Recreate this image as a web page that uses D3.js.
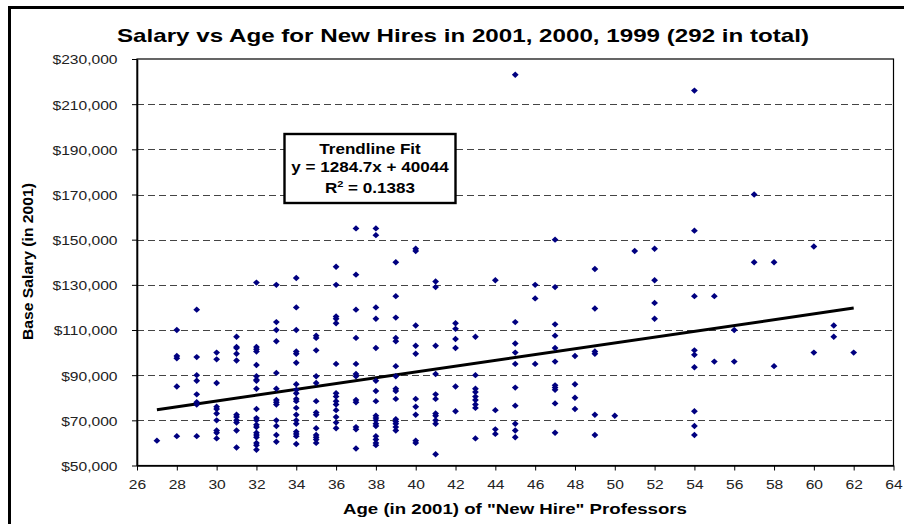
<!DOCTYPE html>
<html>
<head>
<meta charset="utf-8">
<script src="https://cdn.jsdelivr.net/npm/d3@7"></script>
<style>
  body { margin: 0; background: #fff; }
  svg { display: block; font-family: "Liberation Sans", Arial, sans-serif; }
</style>
</head>
<body>
<div id="chart"></div>
<script>
// ages (in 2001) and the salaries seen at each age, in $1,000
const ageGroups = [27, 28, 29, 30, 31, 32, 33, 34, 35, 36, 37, 38, 39, 40, 41, 42, 43, 44, 45, 46, 47, 48, 49, 50, 51, 52, 54, 55, 56, 57, 58, 60, 61, 62];
const salaryGroups = [
  [61],
  [110, 98.5, 97.5, 85, 63],
  [119, 98, 90, 87.5, 81.5, 78, 77, 63],
  [100, 97, 86.5, 76, 75, 73, 70, 65.5, 64.5, 62],
  [107, 102.5, 102, 99.5, 96.5, 72.5, 71.5, 70, 69, 65.5, 58],
  [131, 102.5, 101.5, 100.5, 94.5, 89.5, 88, 87.5, 84, 75, 71, 70, 68, 67, 64.5, 63.5, 62.5, 60, 59, 57],
  [130, 113.5, 110, 105, 91, 84, 79, 78, 77, 70, 67.5, 63.5, 60.5],
  [133, 120, 110, 100.5, 99.5, 95.5, 86, 83.5, 82, 79.5, 78.5, 75.5, 72.5, 70, 68.5, 65, 64, 63, 59.5],
  [107.5, 106.5, 101, 89.5, 86.5, 78.5, 73.5, 72.5, 66.5, 63.5, 62.5, 61.5, 60],
  [138, 130, 116, 115, 113, 95, 82, 80.5, 78.5, 77, 74.5, 71.5, 69, 66.5],
  [155, 134.5, 119, 106.5, 95, 90.5, 89.5, 79, 78, 67, 66, 57.5],
  [155, 152, 120, 115, 102, 87.5, 83, 78.5, 72, 71, 70, 68.5, 67.5, 63, 61.5, 60, 59],
  [140, 125, 115.5, 106.5, 105, 94, 89.5, 84, 83, 79.5, 70.5, 69.5, 68.5, 67, 65.5],
  [146, 145, 112, 103, 99.5, 79.5, 76, 72.5, 61, 60],
  [131.5, 129, 103, 90.5, 81.5, 79.5, 73, 72, 70, 68.5, 55],
  [113, 110.5, 106, 102, 85, 74],
  [107, 90, 84, 82.5, 80.5, 79, 77, 75.5, 62],
  [132, 74.5, 66, 64],
  [223, 113.5, 104, 100, 95, 84.5, 76.5, 68.5, 65.5, 62.5],
  [130, 124, 95],
  [150, 129, 112.5, 107.5, 102, 96, 85.5, 84.5, 83.5, 77.5, 64.5],
  [98.5, 86, 80, 75],
  [137, 119.5, 100.5, 99.5, 72.5, 63.5],
  [72],
  [145],
  [146, 132, 122, 115],
  [216, 154, 125, 101, 99, 93.5, 74, 67.5, 63.5],
  [125, 96],
  [110, 96],
  [170, 140],
  [140, 94],
  [147, 100],
  [112, 107],
  [100]
];

const xTicks = d3.range(26, 65, 2);
const yTicks = d3.range(50000, 230001, 20000);
const trendSlope = 1284.7;
const trendIntercept = 40044;
const trendAges = [27, 62];
const trendLines = ["Trendline Fit", "y = 1284.7x + 40044"];
const trendR2 = "0.1383";

const titleText = "Salary vs Age for New Hires in 2001, 2000, 1999 (292 in total)";
const xTitle = "Age (in 2001) of \"New Hire\" Professors";
const yTitle = "Base Salary (in 2001)";

const points = ageGroups.flatMap((a, i) => salaryGroups[i].map(s => ({ age: a, salary: s * 1000 })));

const W = 904, H = 524;
const svg = d3.select("#chart").append("svg")
  .attr("width", W)
  .attr("height", H);

// outer chart frame (runs off the right and bottom edges)
svg.append("rect")
  .attr("x", 9.5).attr("y", 7.5)
  .attr("width", 960).attr("height", 560)
  .attr("fill", "none")
  .attr("stroke", "#000")
  .attr("stroke-width", 3);

const x = d3.scaleLinear().domain([26, 64]).range([137, 893.5]);
const y = d3.scaleLinear().domain([50000, 230000]).range([465.5, 59]);

// dashed gridlines
svg.append("g")
  .selectAll("line")
  .data(yTicks.slice(1, -1))
  .join("line")
  .attr("x1", x(26)).attr("x2", x(64))
  .attr("y1", d => Math.round(y(d)) + 0.5)
  .attr("y2", d => Math.round(y(d)) + 0.5)
  .attr("stroke", "#444")
  .attr("stroke-dasharray", "7,4");

// plot frame
svg.append("rect")
  .attr("x", x(26)).attr("y", y(230000))
  .attr("width", x(64) - x(26))
  .attr("height", y(50000) - y(230000))
  .attr("fill", "none")
  .attr("stroke", "#000")
  .attr("stroke-width", 1.2);

// axes
const xAxis = svg.append("g")
  .attr("transform", `translate(0,${y(50000)})`)
  .attr("font-family", null)
  .call(d3.axisBottom(x).tickValues(xTicks).tickSize(5).tickPadding(9.6).tickSizeOuter(0));
xAxis.attr("font-size", 13).attr("font-family", null);
xAxis.select(".domain").attr("stroke-width", 1.5);
xAxis.selectAll("text")
  .attr("fill", "#222")
  .attr("transform", "scale(1.2,1)");

const yAxis = svg.append("g")
  .attr("transform", `translate(${x(26)},0)`)
  .call(d3.axisLeft(y).tickValues(yTicks).tickFormat(d3.format("$,")).tickSize(5).tickSizeOuter(0));
yAxis.attr("font-size", 13).attr("font-family", null);
yAxis.select(".domain").attr("stroke-width", 1.6);
yAxis.selectAll("text")
  .attr("x", 0)
  .attr("dy", "0.38em")
  .attr("fill", "#222")
  .attr("transform", `translate(${117.5 - x(26)},0) scale(1.2,1)`);

// trendline
const line = d3.line()
  .x(d => x(d))
  .y(d => y(trendSlope * d + trendIntercept));

svg.append("path")
  .datum(trendAges)
  .attr("fill", "none")
  .attr("stroke", "#000")
  .attr("stroke-width", 3)
  .attr("d", line);

// diamonds
const diamond = "M0,-3.2L3.4,0L0,3.2L-3.4,0Z";
svg.append("g")
  .selectAll("path")
  .data(points)
  .join("path")
  .attr("transform", d => `translate(${x(d.age)},${y(d.salary)})`)
  .attr("d", diamond)
  .attr("fill", "#000080");

// trendline label box
const box = svg.append("g");
box.append("rect")
  .attr("x", 284.5).attr("y", 134)
  .attr("width", 171).attr("height", 69)
  .attr("fill", "#fff")
  .attr("stroke", "#000")
  .attr("stroke-width", 2.4);

const boxCx = 370;
[154, 172.3].forEach((base, i) => {
  box.append("g")
    .attr("transform", `translate(${boxCx},${base}) scale(1.22,1)`)
    .append("text")
    .attr("text-anchor", "middle")
    .attr("font-size", 14)
    .attr("font-weight", "bold")
    .text(trendLines[i]);
});
const r2 = box.append("g")
  .attr("transform", `translate(${boxCx},193.3) scale(1.22,1)`)
  .append("text")
  .attr("text-anchor", "middle")
  .attr("font-size", 14)
  .attr("font-weight", "bold");
r2.append("tspan").text("R");
r2.append("tspan").attr("font-size", 9).attr("dy", -6).text("2");
r2.append("tspan").attr("dy", 6).text(" = " + trendR2);

// titles
svg.append("text")
  .attr("x", 117).attr("y", 41.7)
  .attr("font-size", 18.5)
  .attr("font-weight", "bold")
  .attr("textLength", 692)
  .attr("lengthAdjust", "spacingAndGlyphs")
  .text(titleText);

svg.append("text")
  .attr("x", 515 - 172).attr("y", 514.3)
  .attr("font-size", 14)
  .attr("font-weight", "bold")
  .attr("textLength", 344)
  .attr("lengthAdjust", "spacingAndGlyphs")
  .text(xTitle);

svg.append("text")
  .attr("transform", "translate(32.5,340) rotate(-90)")
  .attr("font-size", 14)
  .attr("font-weight", "bold")
  .attr("textLength", 157)
  .attr("lengthAdjust", "spacingAndGlyphs")
  .text(yTitle);
</script>
</body>
</html>
